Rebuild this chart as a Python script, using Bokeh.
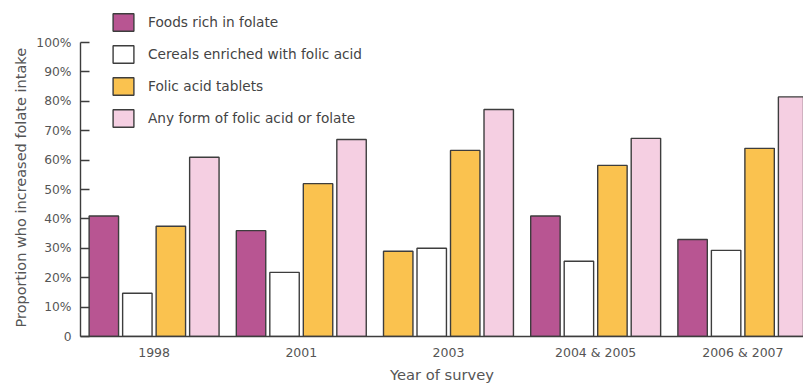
from bokeh.plotting import figure
from bokeh.models import Range1d, FixedTicker, ColumnDataSource, Legend, LegendItem, Title
from bokeh.transform import dodge
from bokeh.embed import file_html
from bokeh.resources import INLINE

# ---- data ----
categories = ["1998", "2001", "2003", "2004 & 2005", "2006 & 2007"]
foods_rich = [41.0, 36.0, 29.0, 41.0, 33.0]
cereals_enriched = [14.7, 21.8, 30.0, 25.6, 29.3]
folic_tablets = [37.5, 52.0, 63.3, 58.2, 64.0]
any_form = [61.0, 67.0, 77.2, 67.4, 81.5]
series_names = ["Foods rich in folate", "Cereals enriched with folic acid",
                "Folic acid tablets", "Any form of folic acid or folate"]
y_ticks = [0, 10, 20, 30, 40, 50, 60, 70, 80, 90, 100]
y_title = "Proportion who increased folate intake"
x_title = "Year of survey"

# ---- styles ----
PURPLE = "#B85592"
WHITE = "#FFFFFF"
ORANGE = "#FAC24F"
PINK = "#F5CFE2"
EDGE = "#3d3d3d"
TEXT = "#555555"
FONT = "DejaVu Sans"
# the reference colours the 2003 "foods" bar like the tablets series
foods_colors = [PURPLE, PURPLE, ORANGE, PURPLE, PURPLE]

src = ColumnDataSource(dict(
    x=list(range(len(categories))),
    foods=foods_rich, cereals=cereals_enriched,
    tablets=folic_tablets, anyf=any_form,
    foods_color=foods_colors,
))

p = figure(width=803, height=385,
           x_range=Range1d(-0.5, 4.412), y_range=Range1d(0, 114.3),
           output_backend="svg", toolbar_location=None,
           min_border_left=80, min_border_right=0,
           min_border_top=0, min_border_bottom=49)
p.outline_line_color = None
p.xgrid.visible = False
p.ygrid.visible = False
p.background_fill_color = "white"
p.border_fill_color = "white"

step = 0.2276
bw = 0.2
specs = [("foods", "foods_color", -1.5), ("cereals", WHITE, -0.5),
         ("tablets", ORANGE, 0.5), ("anyf", PINK, 1.5)]
renderers = []
for col, color, k in specs:
    r = p.vbar(x=dodge("x", k * step, range=p.x_range), top=col, width=bw,
               source=src, fill_color=color, line_color=EDGE, line_width=1.4)
    renderers.append(r)

items = [LegendItem(label=n, renderers=[r], index=0) for n, r in zip(series_names, renderers)]
legend = Legend(items=items, location=(30, 207), orientation="vertical",
                glyph_width=26, glyph_height=22, spacing=10, padding=0, margin=0,
                label_standoff=12, label_text_font=FONT, label_text_font_size="13.7px",
                label_text_color="#444444", border_line_color=None,
                background_fill_alpha=0, label_height=22)
p.add_layout(legend, "center")

# y axis
ya = p.yaxis[0]
ya.ticker = FixedTicker(ticks=y_ticks)
ya.major_label_overrides = {t: ("0" if t == 0 else f"{t}%") for t in y_ticks}
ya.bounds = (0, 100)
ya.major_tick_in = 9
ya.major_tick_out = 0
ya.minor_tick_line_color = None
ya.major_tick_line_color = EDGE
ya.major_tick_line_width = 1.4
ya.axis_line_color = EDGE
ya.axis_line_width = 1.4
ya.major_label_standoff = 9
ya.major_label_text_font = FONT
ya.major_label_text_font_size = "12.3px"
ya.major_label_text_color = TEXT

# y title, aligned with the 0-100 part of the axis
yt = Title(text=y_title, align="left", offset=9, text_font=FONT,
           text_font_style="normal", text_font_size="14.5px", text_color=TEXT,
           standoff=10)
p.add_layout(yt, "left")

# x axis
xa = p.xaxis[0]
xa.ticker = FixedTicker(ticks=list(range(len(categories))))
xa.major_label_overrides = {i: c for i, c in enumerate(categories)}
xa.major_tick_in = 0
xa.major_tick_out = 0
xa.minor_tick_line_color = None
xa.axis_line_color = EDGE
xa.axis_line_width = 1.4
xa.major_label_standoff = 8
xa.major_label_text_font = FONT
xa.major_label_text_font_size = "12.5px"
xa.major_label_text_color = TEXT
xa.axis_label = x_title
xa.axis_label_text_font = FONT
xa.axis_label_text_font_style = "normal"
xa.axis_label_text_font_size = "14.7px"
xa.axis_label_text_color = TEXT
xa.axis_label_standoff = 3

open("out.html", "w").write(file_html(p, INLINE))
